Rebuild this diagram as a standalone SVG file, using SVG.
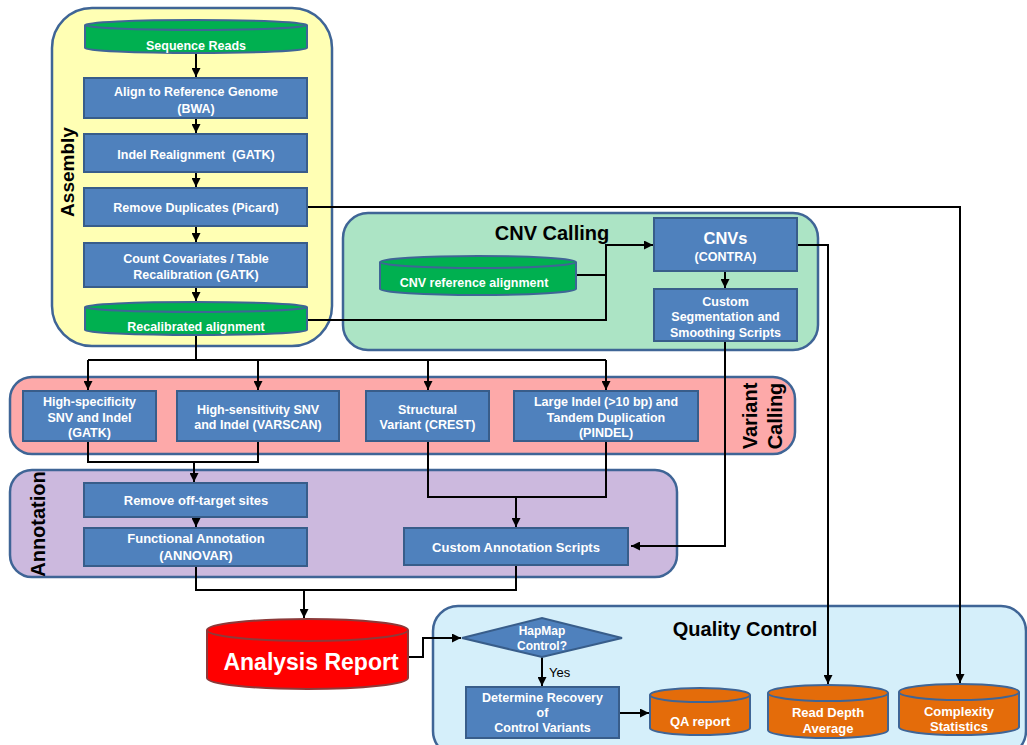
<svg xmlns="http://www.w3.org/2000/svg" width="1027" height="745" viewBox="0 0 1027 745">
<defs>
<marker id="ah" viewBox="0 0 10 10" refX="10" refY="5" markerWidth="4.5" markerHeight="4.5" orient="auto" markerUnits="strokeWidth">
<path d="M0,0 L10,5 L0,10 z" fill="#000"/>
</marker>
</defs>
<style>
.panel{stroke:#3f6596;stroke-width:2.5}
.box{fill:#4f81bd;stroke:#385d8a;stroke-width:2}
.cylg{fill:#00b050;stroke:#3f6596;stroke-width:2}
.cylo{fill:#e46c0a;stroke:#3f6596;stroke-width:2}
.cylr{fill:#ff0000;stroke:#8c3a3a;stroke-width:2}
.t{font-family:"Liberation Sans",Arial,sans-serif;font-weight:bold;fill:#fff;font-size:12.5px;text-anchor:middle}
.t13{font-size:13px}
.lbl{font-family:"Liberation Sans",Arial,sans-serif;font-weight:bold;fill:#000;font-size:20px;text-anchor:middle}
.c{fill:none;stroke:#000;stroke-width:2}
.a{fill:none;stroke:#000;stroke-width:2;marker-end:url(#ah)}
</style>

<!-- Panels -->
<g id="panel-assembly">
<rect class="panel" x="52" y="8" width="280" height="338" rx="40" fill="#ffffb4"/>
<text class="lbl" transform="translate(74,172) rotate(-90)" style="font-size:19px">Assembly</text>
</g>
<g id="panel-cnv">
<rect class="panel" x="343" y="213" width="475" height="137" rx="25" fill="#ace4c5"/>
<text class="lbl" x="552" y="240">CNV Calling</text>
</g>
<g id="panel-variant">
<rect class="panel" x="10" y="377" width="785" height="77" rx="22" fill="#fda9a9"/>
<text class="lbl" transform="translate(757,416) rotate(-90)">Variant</text>
<text class="lbl" transform="translate(782,416) rotate(-90)">Calling</text>
</g>
<g id="panel-annotation">
<rect class="panel" x="10" y="470" width="667" height="107" rx="22" fill="#ccb9de"/>
<text class="lbl" transform="translate(45,524) rotate(-90)">Annotation</text>
</g>
<g id="panel-qc">
<rect class="panel" x="433" y="606" width="593" height="150" rx="25" fill="#d5effa"/>
<text class="lbl" x="745" y="636">Quality Control</text>
</g>

<!-- Connectors -->
<g id="connectors">
<path class="a" d="M196,53 V77"/>
<path class="a" d="M196,118 V133"/>
<path class="a" d="M196,172 V187"/>
<path class="a" d="M196,226 V242"/>
<path class="a" d="M196,287 V301"/>
<path class="a" d="M307,207 H960 V683"/>
<path class="a" d="M307,320 H606 V245 H653"/>
<path class="c" d="M576,275 H606"/>
<path class="a" d="M725,271 V288"/>
<path class="a" d="M797,245 H828 V684"/>
<path class="a" d="M725,341 V546 H631"/>
<path class="c" d="M196,335 V360"/>
<path class="c" d="M88,360 H606"/>
<path class="a" d="M88,360 V390"/>
<path class="a" d="M258,360 V390"/>
<path class="a" d="M428,360 V390"/>
<path class="a" d="M606,360 V390"/>
<path class="c" d="M88,441 V462 H258 V441"/>
<path class="a" d="M194,462 V482"/>
<path class="c" d="M428,441 V497 H606 V441"/>
<path class="a" d="M516,497 V527"/>
<path class="a" d="M196,517 V527"/>
<path class="c" d="M196,566 V590 H516 V565"/>
<path class="a" d="M304,590 V618"/>
<path class="a" d="M408,657 H423 V638 H461"/>
<path class="a" d="M542,657 V686"/>
<path class="a" d="M619,713 H649"/>
</g>

<!-- Assembly nodes -->
<g id="sequence-reads">
<path class="cylg" d="M85,25 V48 A111,5 0 0 0 307,48 V25"/>
<ellipse class="cylg" cx="196" cy="25" rx="111" ry="5"/>
<text class="t" x="196" y="49.5">Sequence Reads</text>
</g>
<g id="align">
<rect class="box" x="84" y="78" width="223" height="40"/>
<text class="t" x="196" y="95.5">Align to Reference Genome</text>
<text class="t" x="196" y="112.5">(BWA)</text>
</g>
<g id="indel-realign">
<rect class="box" x="84" y="134" width="223" height="38"/>
<text class="t" x="196" y="158.5" style="white-space:pre">Indel Realignment  (GATK)</text>
</g>
<g id="remove-dup">
<rect class="box" x="84" y="188" width="223" height="38"/>
<text class="t" x="196" y="211.5">Remove Duplicates (Picard)</text>
</g>
<g id="count-cov">
<rect class="box" x="84" y="243" width="223" height="44"/>
<text class="t" x="196" y="262.5">Count Covariates / Table</text>
<text class="t" x="196" y="278.5">Recalibration (GATK)</text>
</g>
<g id="recal-align">
<path class="cylg" d="M85,307 V330 A111,5 0 0 0 307,330 V307"/>
<ellipse class="cylg" cx="196" cy="307" rx="111" ry="5"/>
<text class="t" x="196" y="330.5">Recalibrated alignment</text>
</g>

<!-- CNV nodes -->
<g id="cnv-ref">
<path class="cylg" d="M380,262 V289 A98,6 0 0 0 576,289 V262"/>
<ellipse class="cylg" cx="478" cy="262" rx="98" ry="6"/>
<text class="t" x="474" y="286.5">CNV reference alignment</text>
</g>
<g id="cnvs">
<rect class="box" x="654" y="218" width="143" height="53"/>
<text class="t" x="725.5" y="244" style="font-size:16.5px">CNVs</text>
<text class="t" x="725.5" y="260.5">(CONTRA)</text>
</g>
<g id="custom-seg">
<rect class="box" x="654" y="289" width="143" height="52"/>
<text class="t" x="725.5" y="305.5">Custom</text>
<text class="t" x="725.5" y="320.5">Segmentation and</text>
<text class="t" x="725.5" y="336.5">Smoothing Scripts</text>
</g>

<!-- Variant calling nodes -->
<g id="high-spec">
<rect class="box" x="23" y="391" width="133" height="50"/>
<text class="t" x="89.5" y="405.5">High-specificity</text>
<text class="t" x="89.5" y="421.5">SNV and Indel</text>
<text class="t" x="89.5" y="436.5">(GATK)</text>
</g>
<g id="high-sens">
<rect class="box" x="177" y="391" width="162" height="50"/>
<text class="t" x="258" y="413.5">High-sensitivity SNV</text>
<text class="t" x="258" y="428.5">and Indel (VARSCAN)</text>
</g>
<g id="structural">
<rect class="box" x="366" y="391" width="123" height="50"/>
<text class="t" x="427.5" y="413.5">Structural</text>
<text class="t" x="427.5" y="428.5">Variant (CREST)</text>
</g>
<g id="large-indel">
<rect class="box" x="514" y="391" width="184" height="50"/>
<text class="t" x="606" y="405.5">Large Indel (&gt;10 bp) and</text>
<text class="t" x="606" y="421.5">Tandem Duplication</text>
<text class="t" x="606" y="436.5">(PINDEL)</text>
</g>

<!-- Annotation nodes -->
<g id="off-target">
<rect class="box" x="84" y="483" width="223" height="34"/>
<text class="t t13" x="196" y="504.5">Remove off-target sites</text>
</g>
<g id="functional">
<rect class="box" x="84" y="528" width="223" height="38"/>
<text class="t t13" x="196" y="542.5">Functional Annotation</text>
<text class="t t13" x="196" y="559.5">(ANNOVAR)</text>
</g>
<g id="custom-annot">
<rect class="box" x="404" y="528" width="224" height="37"/>
<text class="t t13" x="516" y="551.5">Custom Annotation Scripts</text>
</g>

<!-- Analysis report -->
<g id="analysis-report">
<path class="cylr" d="M207,630 V678 A100.5,11 0 0 0 408,678 V630"/>
<ellipse class="cylr" cx="307.5" cy="630" rx="100.5" ry="11"/>
<text class="t" x="311" y="670" style="font-size:23px">Analysis Report</text>
</g>

<!-- QC nodes -->
<g id="hapmap">
<polygon class="box" points="462,638 542,618 622,638 542,657"/>
<text class="t" x="542" y="635" style="font-size:12px">HapMap</text>
<text class="t" x="542" y="650" style="font-size:12px">Control?</text>
<text x="549" y="677" style="font-family:'Liberation Sans',Arial,sans-serif;font-size:13px;fill:#000">Yes</text>
</g>
<g id="determine">
<rect class="box" x="466" y="687" width="153" height="51"/>
<text class="t" x="542.5" y="702">Determine Recovery</text>
<text class="t" x="542.5" y="717">of</text>
<text class="t" x="542.5" y="732">Control Variants</text>
</g>
<g id="qa-report">
<path class="cylo" d="M650,695 V728 A50,7 0 0 0 750,728 V695"/>
<ellipse class="cylo" cx="700" cy="695" rx="50" ry="7"/>
<text class="t t13" x="700" y="726">QA report</text>
</g>
<g id="read-depth">
<path class="cylo" d="M768,693 V730 A60,8 0 0 0 888,730 V693"/>
<ellipse class="cylo" cx="828" cy="693" rx="60" ry="8"/>
<text class="t t13" x="828" y="717">Read Depth</text>
<text class="t t13" x="828" y="733">Average</text>
</g>
<g id="complexity">
<path class="cylo" d="M899,692 V727 A60,8 0 0 0 1019,727 V692"/>
<ellipse class="cylo" cx="959" cy="692" rx="60" ry="8"/>
<text class="t t13" x="959" y="716">Complexity</text>
<text class="t t13" x="959" y="731">Statistics</text>
</g>
</svg>
